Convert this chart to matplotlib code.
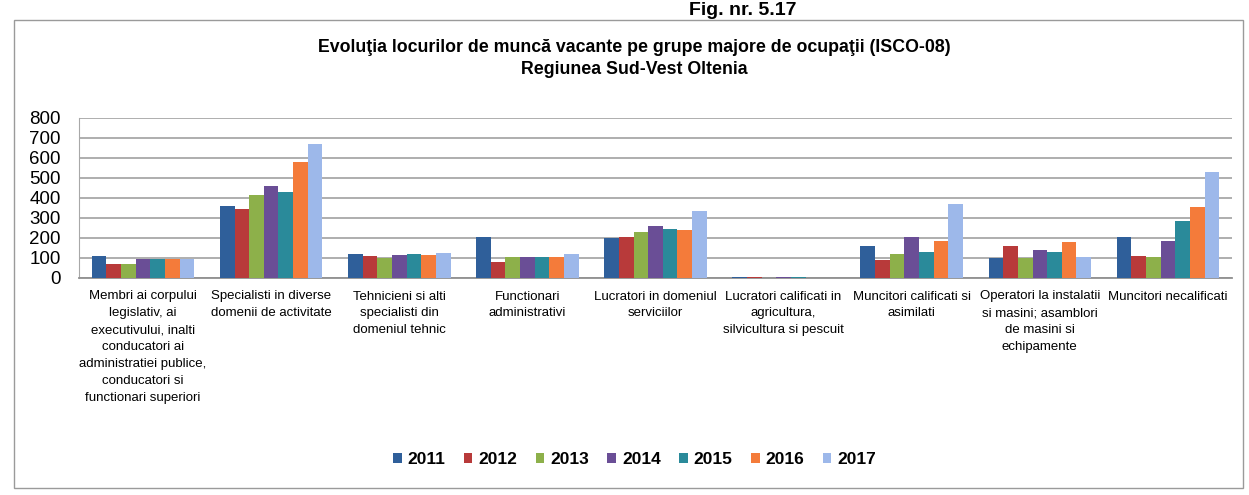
import numpy as np
import matplotlib.pyplot as plt
from matplotlib.patches import Rectangle

# Date
categorii = [
    "Membri ai corpului\nlegislativ, ai\nexecutivului, inalti\nconducatori ai\nadministratiei publice,\nconducatori si\nfunctionari superiori",
    "Specialisti in diverse\ndomenii de activitate",
    "Tehnicieni si alti\nspecialisti din\ndomeniul tehnic",
    "Functionari\nadministrativi",
    "Lucratori in domeniul\nserviciilor",
    "Lucratori calificati in\nagricultura,\nsilvicultura si pescuit",
    "Muncitori calificati si\nasimilati",
    "Operatori la instalatii\nsi masini; asamblori\nde masini si\nechipamente",
    "Muncitori necalificati",
]
ani = ["2011", "2012", "2013", "2014", "2015", "2016", "2017"]

v2011 = [110, 360, 120, 205, 200, 3, 158, 100, 205]
v2012 = [70, 343, 108, 80, 205, 6, 92, 160, 110]
v2013 = [70, 415, 102, 103, 228, 2, 120, 100, 107]
v2014 = [95, 460, 115, 103, 258, 5, 204, 142, 185]
v2015 = [95, 430, 122, 103, 245, 4, 128, 132, 285]
v2016 = [95, 580, 115, 103, 242, 1, 184, 178, 355]
v2017 = [95, 670, 125, 120, 335, 1, 371, 103, 530]
valori = [v2011, v2012, v2013, v2014, v2015, v2016, v2017]

culori = ["#2F5F9A", "#B83A3A", "#8DB04A", "#6A4E96", "#2A8A9A", "#F47B3A", "#9DB8EA"]

plt.rcParams['font.family'] = ['Liberation Sans', 'DejaVu Sans']

fig = plt.figure(figsize=(12.49, 4.95), dpi=100)
ax = fig.add_axes([79 / 1249, 1 - 278 / 495, (1232 - 79) / 1249, 160 / 495])

x = np.arange(len(categorii))
n = len(ani)
lat = 0.8 / n
for i, (an, vals) in enumerate(zip(ani, valori)):
    ax.bar(x - 0.4 + lat * (i + 0.5), vals, lat, color=culori[i], label=an, zorder=3)

ax.set_xlim(-0.5, len(categorii) - 0.5)
ax.set_ylim(0, 800)
ax.set_yticks(range(0, 801, 100))
ax.yaxis.grid(True, color="#A8A8A8", linewidth=1.3, zorder=0)
ax.tick_params(axis="y", length=0, pad=13, labelsize=13.5)
ax.tick_params(axis="x", length=0, pad=9)
ax.set_xticks(x)
ax.set_xticklabels(categorii, fontsize=9.5, linespacing=1.55, va="top")
for s in ["top", "right"]:
    ax.spines[s].set_visible(False)
ax.spines["left"].set_color("#A8A8A8")
ax.spines["bottom"].set_color("#909090")
ax.spines["bottom"].set_linewidth(1.3)

fig.text(0.508, 1 - 48 / 495,
         "Evoluţia locurilor de muncă vacante pe grupe majore de ocupaţii (ISCO-08)",
         ha="center", va="center", fontsize=12.8, fontweight="bold")
fig.text(0.508, 1 - 69 / 495, "Regiunea Sud-Vest Oltenia",
         ha="center", va="center", fontsize=12.8, fontweight="bold")
fig.text(0.595, 1 - 19 / 495, "Fig. nr. 5.17", ha="center", va="bottom",
         fontsize=14, fontweight="bold")

fig.legend(loc="center", bbox_to_anchor=(0.508, 1 - 460 / 495), ncol=n, frameon=False,
           handlelength=0.5, handleheight=0.5, handletextpad=0.35, columnspacing=1.05,
           prop={"size": 12.5, "weight": "bold"})

fig.patches.append(Rectangle((14 / 1249, 7 / 495), (1243 - 14) / 1249, (475 - 7) / 495,
                             transform=fig.transFigure, fill=False,
                             edgecolor="#9A9A9A", linewidth=1))

fig.savefig("out.png", dpi=100)
